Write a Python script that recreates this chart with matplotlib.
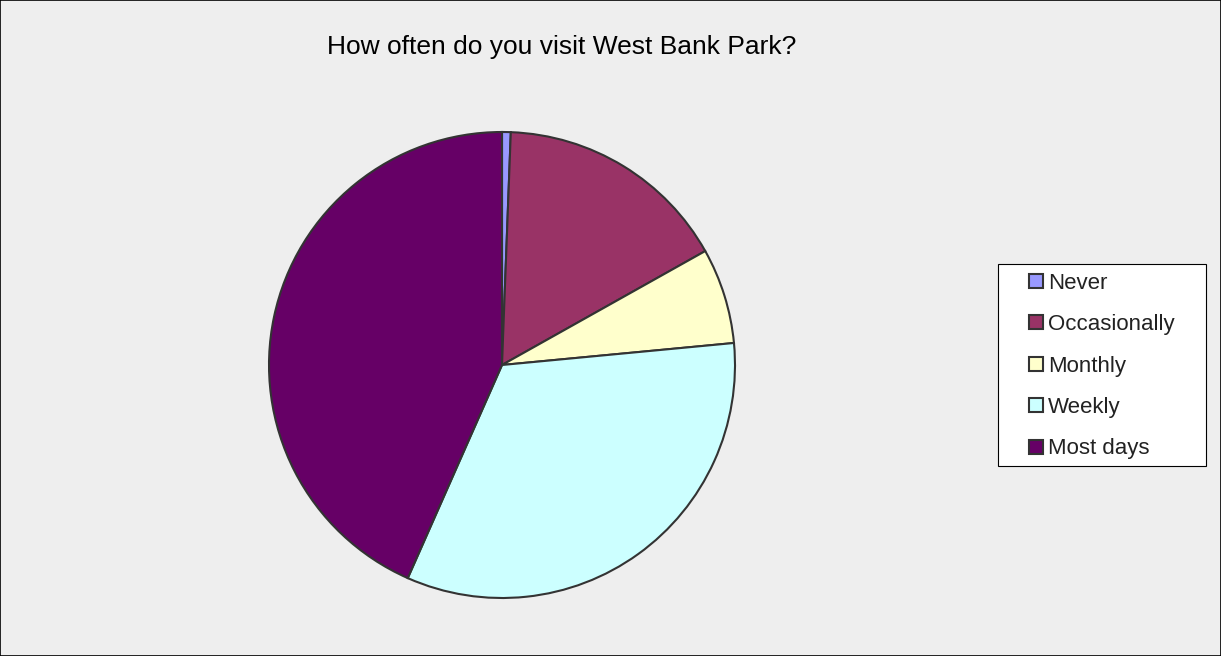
import matplotlib
matplotlib.use("Agg")
import matplotlib.pyplot as plt
from matplotlib.patches import Rectangle

plt.rcParams["font.family"] = ["Liberation Sans", "DejaVu Sans"]

title = "How often do you visit West Bank Park?"
categories = ["Never", "Occasionally", "Monthly", "Weekly", "Most days"]
counts = [1, 27, 11, 55, 72]
colors = ["#9999FF", "#993366", "#FFFFCC", "#CCFFFF", "#660066"]

W, H = 1221, 656
fig = plt.figure(figsize=(W / 100, H / 100), dpi=100, facecolor="#EEEEEE")
fig.patches.append(
    Rectangle((0, 0), 1, 1, transform=fig.transFigure, fill=False,
              edgecolor="black", linewidth=1.2)
)

# pie area: centre (502, 365), radius ~232 px
ax = fig.add_axes([(502 - 233) / W, (H - 365 - 233) / H, 466 / W, 466 / H])
wedges, _ = ax.pie(
    counts,
    colors=colors,
    startangle=90,
    counterclock=False,
    radius=1.0,
    wedgeprops={"edgecolor": "#333333", "linewidth": 1.5},
)
ax.set_xlim(-1.0, 1.0)
ax.set_ylim(-1.0, 1.0)
ax.set_aspect("equal")
ax.axis("off")

fig.text(562 / W, 1 - 47 / H, title, ha="center", va="center",
         fontsize=19, color="black")

# legend box drawn separately so the side padding can be wider
fig.patches.append(
    Rectangle((998 / W, (H - 466) / H), 208 / W, 202 / H,
              transform=fig.transFigure, facecolor="white",
              edgecolor="black", linewidth=0.8)
)
leg = fig.legend(
    wedges,
    categories,
    loc="center",
    bbox_to_anchor=(1102 / W, 1 - 366 / H),
    fontsize=16,
    frameon=False,
    handlelength=0.6,
    handleheight=0.6,
    handletextpad=0.25,
    labelspacing=0.92,
    borderpad=0.0,
    borderaxespad=0,
)
for t in leg.get_texts():
    t.set_color("#222222")
for h in leg.legend_handles:
    h.set_edgecolor("#333333")
    h.set_linewidth(1.5)

fig.savefig("out.png", dpi=100, facecolor=fig.get_facecolor())
